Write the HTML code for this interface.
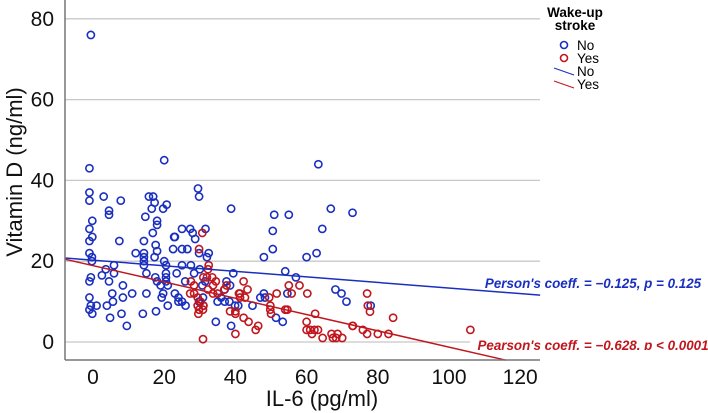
<!DOCTYPE html>
<html><head><meta charset="utf-8"><style>
body{margin:0;background:#fff;}
svg{display:block;font-family:"Liberation Sans",sans-serif;}
</style></head><body>
<svg id="chart" width="708" height="413" xmlns="http://www.w3.org/2000/svg">
<defs><clipPath id="cp"><rect x="0" y="0" width="708" height="350"/></clipPath></defs>
<g id="grid"></g>
<g id="marks"></g>
<g id="fits"></g>
<line x1="65" y1="0" x2="65" y2="360" stroke="#777" stroke-width="1.5"/>
<line x1="65" y1="360" x2="540" y2="360" stroke="#777" stroke-width="1.5"/>
<g id="yt"></g>
<g id="xt"></g>
<text x="22" y="172" font-size="22" text-anchor="middle" transform="rotate(-90 22 172)" fill="#111">Vitamin D (ng/ml)</text>
<text x="322" y="406" font-size="22" text-anchor="middle" fill="#111">IL-6 (pg/ml)</text>
<text x="593" y="288" font-size="13.4" font-weight="bold" font-style="italic" fill="#1a2fbf" text-anchor="middle">Person's coeff. = −0.125, p = 0.125</text>
<text x="593" y="350" font-size="13.4" font-weight="bold" font-style="italic" fill="#c0161e" text-anchor="middle" clip-path="url(#cp)">Pearson's coeff. = −0.628, p &lt; 0.0001</text>
<g font-size="13.5">
<text x="575" y="17" text-anchor="middle" font-weight="bold">Wake-up</text>
<text x="575" y="30" text-anchor="middle" font-weight="bold">stroke</text>
<circle cx="564" cy="45" r="3.5" fill="none" stroke="#1a2fbf" stroke-width="1.6"/>
<text x="577" y="50">No</text>
<circle cx="564" cy="58" r="3.5" fill="none" stroke="#c0161e" stroke-width="1.6"/>
<text x="577" y="63">Yes</text>
<line x1="554" y1="68" x2="574" y2="75" stroke="#1a2fbf"/>
<text x="577" y="76">No</text>
<line x1="554" y1="81" x2="574" y2="88" stroke="#c0161e"/>
<text x="577" y="89">Yes</text>
</g>
</svg>
<script>
const yTicks=[0,20,40,60,80];
const xTicks=[0,20,40,60,80,100,120];
const noX=[-0.6,-1,-1,-1,-0.2,-1,-0.2,-1,-1,-0.3,-0.3,-0.6,-1,-1,-0.6,-1,-0.2,1,3,4.5,4.5,7.8,7.4,2.5,3.6,5.9,5.9,4.5,5.4,5.6,3.9,4.8,8.4,8.4,8,9.5,11,12,14,14.7,15.7,16.9,16.5,17.3,19.7,20.7,20,14.3,14.3,14.3,14.3,14.3,16.8,17.6,18,18,18,17.3,20,17.5,18,19,19.7,19.3,21,15,15,17.7,20.5,20.5,20.5,20.5,21,22.8,23,22.5,25,25,26.5,25,23.5,25.9,23,24,25,26,24,27.3,28,28.7,27.5,28.4,30,29.5,29.8,29.8,31.6,32,32.5,31.5,30.7,29.8,30.9,31,35,36,37,38.5,37.5,38.8,39.4,38.8,34.5,37,38.3,40.8,39.9,44.8,47,48,48.3,48,50.5,50.5,50.9,55,54,54.6,51.4,53.3,57,60,62.8,63.3,64.4,66.8,68.1,69.8,71.2,72.9,78];
const noY=[76,43,37,35,30,28,26,25,22,21,20,16,15,11,9,8,7,9,36,32.5,31.5,35,25,16.5,18,19,17,15,12,10,9,6,14,11,7,4,12,22,7,31,36,36,33,34.5,33,34,45,25,22,21,20,19,27,24,30,29,22.5,21,20,16,15,14,12,11,9,17,12,7.6,19,17,16,15,14,26,26,23,28,23,23,19,17,15,12,11,10,9,10,28,27,25.5,19,17,18,38,36,22,28,21,22,15,14,10,11,9,10,11,13,14,15,33,17,4,5,10,10,9,9,9,11,12,11,21,23,27.5,31.5,31.5,17.5,12,6,5,16,21,22,44,28,33,13,12,10,32,9];
const yesX=[30.7,29.8,27.5,28.4,27.3,28.4,29.4,30.2,29.4,29.8,29.6,30.9,31,32.5,32.3,31,32,33.5,34.5,33.7,32.3,33.7,35,36.9,37.5,41,41.3,42.3,43.4,41.3,42.7,40,38.5,40,40,42.3,43.7,46.4,45.7,49.5,49.8,49.8,50,51.6,54,54.6,55,55.8,58,60.2,60,60,62.4,61,62.2,63.2,61.5,64.5,67,67.4,68.3,68.7,70,30.9,72.9,77,77.2,77.8,75.8,77,80,83,84.3,106,73];
const yesY=[27,23,15,14,12,12,11,10,9,8,7,8,9,19,18,16,16,16,15,14,13,12,12,13,14,12,12,15,13,11,11,7.6,7.6,7,2,6,5,4,3,11,9,8,7,12,8,8,14,12,14,12,5,3,7,3,3,3,2,1,2,1,1,2,1,0.7,4,12,9,7.5,3,2,2,2,6,3,4];
const noFitX=[-7.9,125.6];
const noFitY=[20.8,11.6];
const yesFitX=[-7.9,116];
const yesFitY=[20.5,-4.5];
const sx=v=>93+v*3.56, sy=v=>342-v*4.04;
const NS='http://www.w3.org/2000/svg';
function mk(t,a,p){const e=document.createElementNS(NS,t);for(const k in a)e.setAttribute(k,a[k]);p.appendChild(e);return e;}
const grid=document.getElementById('grid'),yt=document.getElementById('yt'),xt=document.getElementById('xt');
yTicks.forEach(v=>{
 const l=mk('line',{x1:65,x2:v===0?470:540,y1:sy(v),y2:sy(v),stroke:'#c8c8c8','stroke-width':1.3},grid);
 
 
 const t=mk('text',{x:54,y:sy(v)+7,'font-size':21,'text-anchor':'end',fill:'#111'},yt);t.textContent=v;
 
 
});
xTicks.forEach(v=>{
 const t=mk('text',{x:sx(v),y:384,'font-size':21,'text-anchor':'middle',fill:'#111'},xt);t.textContent=v;
 
 
});
const marks=document.getElementById('marks');
noX.forEach((x,i)=>{const c=mk('circle',{cx:sx(x),cy:sy(noY[i]),r:3.6,fill:'none',stroke:'#1a2fbf','stroke-width':1.6},marks);
 
 });
yesX.forEach((x,i)=>{const c=mk('circle',{cx:sx(x),cy:sy(yesY[i]),r:3.6,fill:'none',stroke:'#c0161e','stroke-width':1.6},marks);
 
 });
const fits=document.getElementById('fits');
const b=mk('line',{x1:sx(noFitX[0]),y1:sy(noFitY[0]),x2:sx(noFitX[1]),y2:sy(noFitY[1]),stroke:'#1a2fbf','stroke-width':1.5},fits);


const r=mk('line',{x1:sx(yesFitX[0]),y1:sy(yesFitY[0]),x2:sx(yesFitX[1]),y2:sy(yesFitY[1]),stroke:'#c0161e','stroke-width':1.5},fits);


</script>
</body></html>
